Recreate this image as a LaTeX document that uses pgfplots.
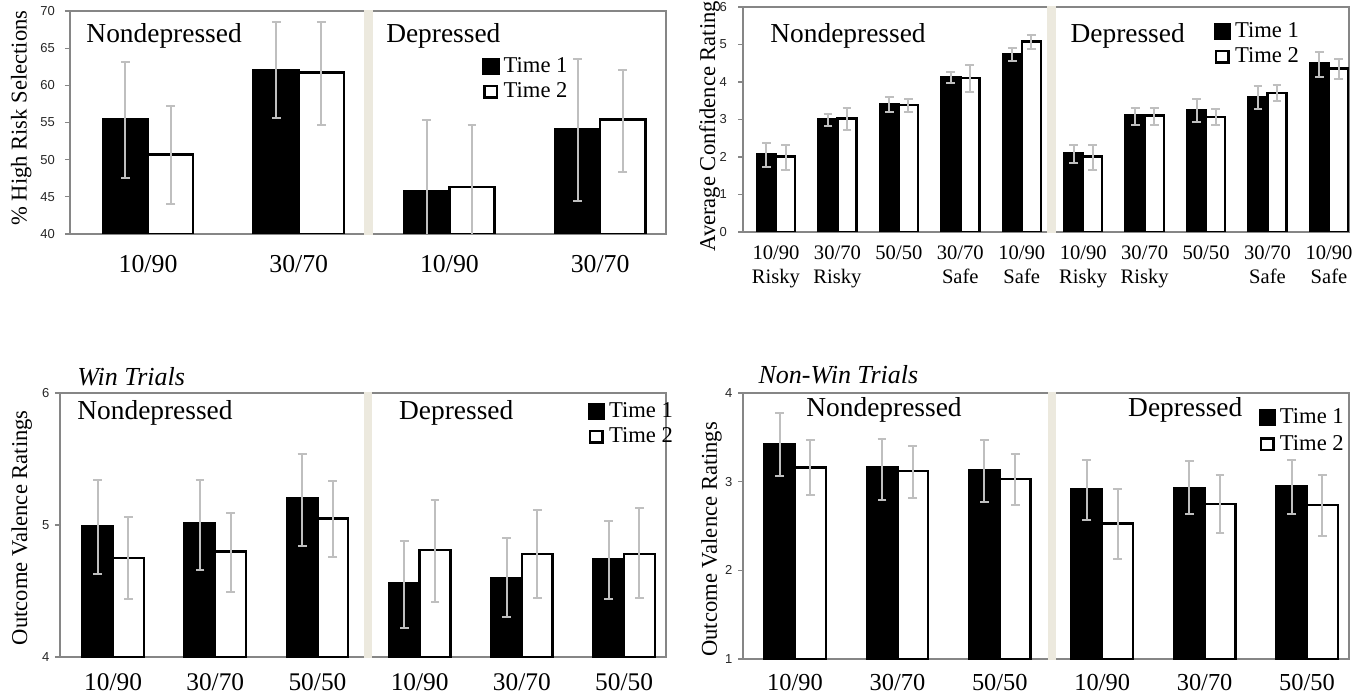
\documentclass[border=0pt]{standalone}
\usepackage{fontspec}
\setmainfont{Liberation Serif}
\newfontfamily\tickfont{Liberation Sans}
\usepackage{pgfplots}
\usepackage{pgfplotstable}
\pgfplotsset{compat=1.18}

\definecolor{axgray}{RGB}{134,134,134}
\definecolor{errgray}{RGB}{191,191,191}
\definecolor{sepcol}{RGB}{236,233,222}

% Panel A: % High Risk Selections
\pgfplotstableread{
x t1 t1p t1m t2 t2p t2m
0 55.4 7.8 7.9 50.7 6.5 6.6
1 62.1 6.4 6.5 61.7 6.8 7.0
2 45.8 9.6 9.6 46.3 8.4 8.4
3 54.1 9.5 9.7 55.4 6.6 7.0
}\dataA

% Panel B: Average Confidence Rating
\pgfplotstableread{
x t1 t1p t1m t2 t2p t2m
0 2.08 0.29 0.36 2.01 0.30 0.35
1 3.02 0.13 0.20 3.03 0.27 0.30
2 3.42 0.18 0.22 3.38 0.16 0.18
3 4.14 0.12 0.18 4.10 0.36 0.36
4 4.74 0.16 0.17 5.08 0.18 0.20
5 2.09 0.22 0.25 2.01 0.30 0.35
6 3.11 0.19 0.26 3.11 0.19 0.26
7 3.24 0.30 0.31 3.06 0.21 0.22
8 3.60 0.30 0.33 3.71 0.20 0.23
9 4.50 0.29 0.36 4.36 0.25 0.28
}\dataB

% Panel C: Win Trials
\pgfplotstableread{
x t1 t1p t1m t2 t2p t2m
0 4.99 0.35 0.36 4.75 0.31 0.31
1 5.01 0.33 0.35 4.80 0.29 0.31
2 5.20 0.34 0.36 5.05 0.28 0.29
3 4.56 0.32 0.34 4.81 0.38 0.39
4 4.60 0.30 0.30 4.78 0.33 0.33
5 4.74 0.29 0.30 4.78 0.35 0.33
}\dataC

% Panel D: Non-Win Trials
\pgfplotstableread{
x t1 t1p t1m t2 t2p t2m
0 3.42 0.35 0.36 3.16 0.31 0.31
1 3.16 0.32 0.37 3.12 0.28 0.30
2 3.13 0.34 0.36 3.03 0.28 0.29
3 2.92 0.32 0.35 2.53 0.39 0.40
4 2.93 0.30 0.30 2.75 0.32 0.33
5 2.95 0.30 0.31 2.74 0.34 0.35
}\dataD

\tikzset{grp/.style={anchor=base west, inner sep=0pt, font=\fontsize{13.7}{15}\selectfont}}

\pgfplotsset{
  panel/.style={
    scale only axis, ybar, bar width=0.3,
    axis line style={draw=axgray, line width=0.6pt},
    ytick pos=left,
    tick align=outside,
    major tick length=2.5pt,
    y tick style={draw=axgray, line width=0.6pt},
    x tick style={draw=none},
    /pgf/number format/assume math mode=true,
    yticklabel style={font=\tickfont\fontsize{6.5}{8}\selectfont, text=black!85, inner sep=0pt, anchor=east},
    yticklabel shift=4.9pt,
    xticklabel style={font=\fontsize{12.9}{14}\selectfont, inner sep=0pt, anchor=base},
    ylabel style={font=\fontsize{11.3}{13}\selectfont, anchor=center, inner sep=0pt},
    every axis title shift=0pt,
    title style={anchor=base west, inner sep=0pt, yshift=0pt, font=\itshape\fontsize{13}{15}\selectfont},
    legend cell align=left,
    legend style={draw=none, fill=none, inner sep=0pt,
      font=\fontsize{11.3}{13}\selectfont, row sep=2.7pt,
      nodes={inner sep=0pt, inner xsep=2pt, text height=8pt, text depth=2pt, anchor=base west}},
  },
  errs/.style={
    /pgfplots/error bars/y dir=both, /pgfplots/error bars/y explicit,
    /pgfplots/error bars/error mark=-,
    /pgfplots/error bars/error bar style={draw=errgray, line width=1pt},
    /pgfplots/error bars/error mark options={rotate=90, draw=errgray, line width=1pt, mark size=2.2pt}},
  t1/.style={fill=black, draw=black, line width=1.2pt, bar shift=-0.15,
    legend image code/.code={\fill[black] (0pt,-0.5pt) rectangle (7.5pt,6.5pt);},
    errs},
  t2/.style={fill=white, draw=black, line width=1.2pt, bar shift=0.15,
    legend image code/.code={\draw[black, line width=1.2pt, fill=white] (0.6pt,0.1pt) rectangle (6.9pt,5.9pt);},
    errs},
}

\begin{document}
\begin{tikzpicture}
\path[use as bounding box] (0pt,0pt) rectangle (679.5pt,-347pt);

% ---------- Panel A ----------
\begin{axis}[panel, at={(35pt,-117pt)}, anchor=south west,
  width=298pt, height=111.5pt,
  xmin=-0.518, xmax=3.437, ymin=40, ymax=70, ytick={40,45,...,70},
  xtick={0,1,2,3}, xticklabels={10/90,30/70,10/90,30/70},
  xticklabel style={yshift=-17pt},
  ylabel={\% High Risk Selections},
  ylabel style={at={(axis description cs:-0.082,0.52)}},
  legend style={at={(axis description cs:0.691,0.798)}, anchor=north west},
]
\addplot[t1] table[x=x, y=t1, y error plus=t1p, y error minus=t1m] {\dataA};
\addplot[t2] table[x=x, y=t2, y error plus=t2p, y error minus=t2m] {\dataA};
\legend{Time 1, Time 2}
\node[grp] at (axis description cs:0.027,0.857) {Nondepressed};
\node[grp] at (axis description cs:0.530,0.857) {Depressed};
\coordinate (sAb) at (axis cs:1.462,40);
\coordinate (sAt) at (axis cs:1.462,70);
\end{axis}
\fill[sepcol] ([xshift=-2.2pt,yshift=-0.4pt]sAb) rectangle ([xshift=2.2pt,yshift=0.4pt]sAt);

% ---------- Panel B ----------
\begin{axis}[panel, at={(371.5pt,-116pt)}, anchor=south west,
  width=303pt, height=112.5pt, bar width=0.31,
  xmin=-0.537, xmax=9.326, ymin=0, ymax=6, ytick={0,...,6},
  xtick={0,...,9},
  xticklabels={{10/90\\Risky},{30/70\\Risky},{50/50},{30/70\\Safe},{10/90\\Safe},{10/90\\Risky},{30/70\\Risky},{50/50},{30/70\\Safe},{10/90\\Safe}},
  xticklabel style={font=\fontsize{10.3}{12}\selectfont, align=center, anchor=north, yshift=-4.4pt},
  yticklabel shift=5.4pt,
  ylabel={Average Confidence Rating},
  ylabel style={at={(axis description cs:-0.055,0.47)}},
  legend style={at={(axis description cs:0.776,0.938)}, anchor=north west},
]
\addplot[t1, bar shift=-0.155] table[x=x, y=t1, y error plus=t1p, y error minus=t1m] {\dataB};
\addplot[t2, bar shift=0.155] table[x=x, y=t2, y error plus=t2p, y error minus=t2m] {\dataB};
\legend{Time 1, Time 2}
\node[grp] at (axis description cs:0.0446,0.84) {Nondepressed};
\node[grp] at (axis description cs:0.54,0.84) {Depressed};
\coordinate (sBb) at (axis cs:4.49,0);
\coordinate (sBt) at (axis cs:4.49,6);
\end{axis}
\fill[sepcol] ([xshift=-2.2pt,yshift=-0.4pt]sBb) rectangle ([xshift=2.2pt,yshift=0.4pt]sBt);

% ---------- Panel C ----------
\begin{axis}[panel, at={(30pt,-328.5pt)}, anchor=south west,
  width=303pt, height=132pt,
  xmin=-0.519, xmax=5.41, ymin=4, ymax=6, ytick={4,5,6},
  xtick={0,...,5}, xticklabels={10/90,30/70,50/50,10/90,30/70,50/50},
  xticklabel style={font=\fontsize{12.7}{14}\selectfont, yshift=-14pt},
  yticklabel shift=2.6pt,
  ylabel={Outcome Valence Ratings},
  ylabel style={at={(axis description cs:-0.063,0.49)}},
  title={Win Trials},
  title style={at={(axis description cs:0.028,1.03)}},
  legend style={at={(axis description cs:0.870,0.970)}, anchor=north west},
]
\addplot[t1] table[x=x, y=t1, y error plus=t1p, y error minus=t1m] {\dataC};
\addplot[t2] table[x=x, y=t2, y error plus=t2p, y error minus=t2m] {\dataC};
\legend{Time 1, Time 2}
\node[grp] at (axis description cs:0.028,0.898) {Nondepressed};
\node[grp] at (axis description cs:0.559,0.898) {Depressed};
\coordinate (sCb) at (axis cs:2.495,4);
\coordinate (sCt) at (axis cs:2.495,6);
\end{axis}
\fill[sepcol] ([xshift=-2.2pt,yshift=-0.4pt]sCb) rectangle ([xshift=2.2pt,yshift=0.4pt]sCt);

% ---------- Panel D ----------
\begin{axis}[panel, at={(371.5pt,-329.5pt)}, anchor=south west,
  width=303pt, height=133pt,
  xmin=-0.508, xmax=5.41, ymin=1, ymax=4, ytick={1,2,3,4},
  xtick={0,...,5}, xticklabels={10/90,30/70,50/50,10/90,30/70,50/50},
  xticklabel style={font=\fontsize{12.2}{14}\selectfont, yshift=-13pt},
  yticklabel shift=2.6pt,
  ylabel={Outcome Valence Ratings},
  ylabel style={at={(axis description cs:-0.052,0.45)}},
  title={Non-Win Trials},
  title style={at={(axis description cs:0.025,1.034)}},
  legend style={at={(axis description cs:0.850,0.947)}, anchor=north west, row sep=3.4pt},
]
\addplot[t1] table[x=x, y=t1, y error plus=t1p, y error minus=t1m] {\dataD};
\addplot[t2] table[x=x, y=t2, y error plus=t2p, y error minus=t2m] {\dataD};
\legend{Time 1, Time 2}
\node[grp] at (axis description cs:0.104,0.91) {Nondepressed};
\node[grp] at (axis description cs:0.635,0.91) {Depressed};
\coordinate (sDb) at (axis cs:2.51,1);
\coordinate (sDt) at (axis cs:2.51,4);
\end{axis}
\fill[sepcol] ([xshift=-2.2pt,yshift=-0.4pt]sDb) rectangle ([xshift=2.2pt,yshift=0.4pt]sDt);

\end{tikzpicture}
\end{document}
